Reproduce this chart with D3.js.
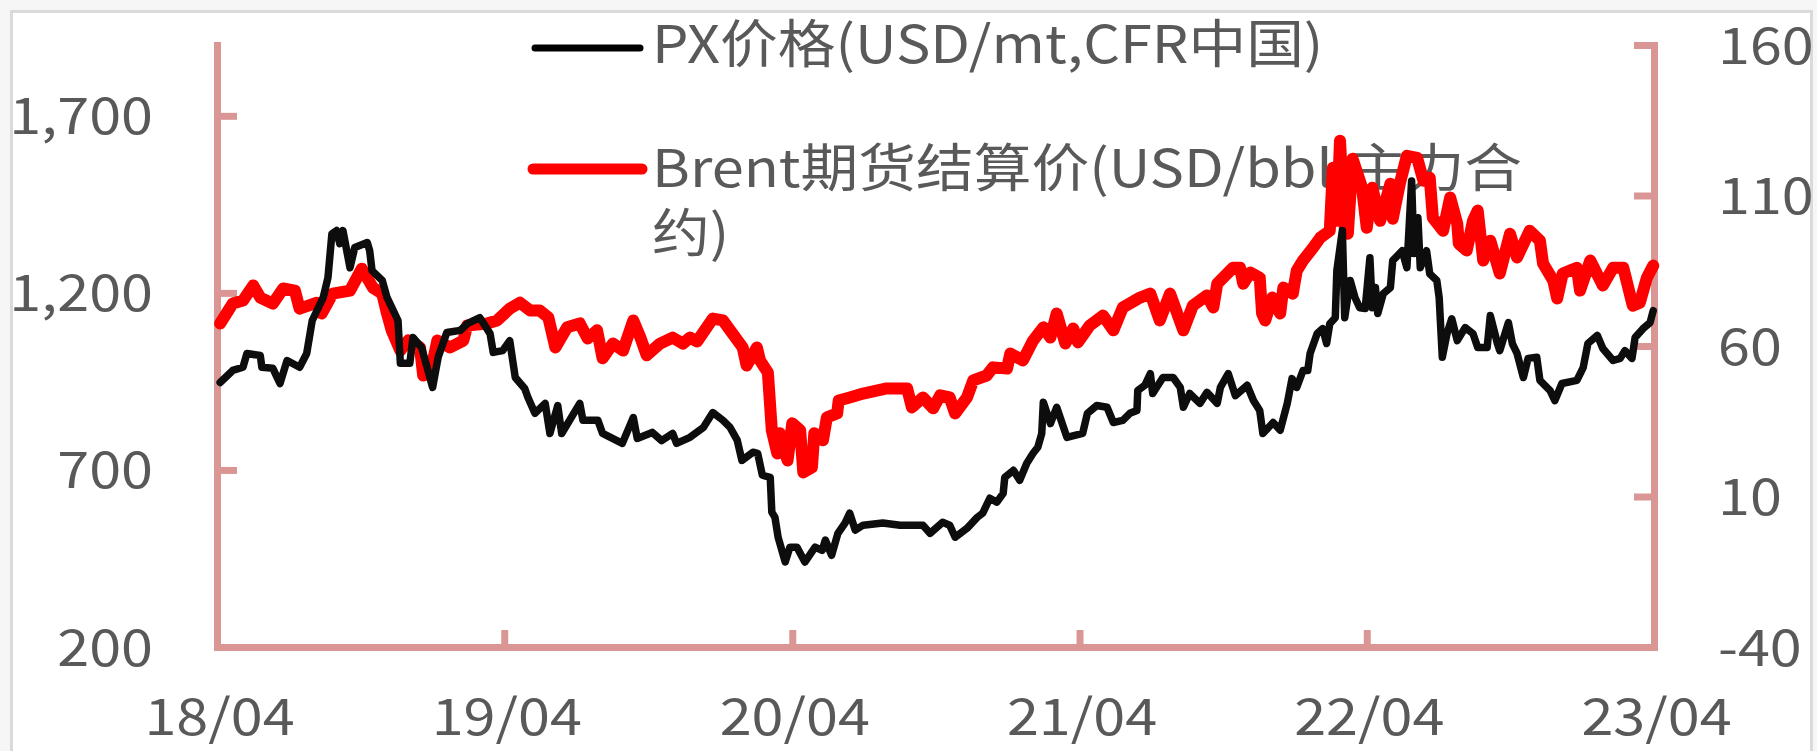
<!DOCTYPE html>
<html>
<head>
<meta charset="utf-8">
<script src="https://cdn.jsdelivr.net/npm/d3@7"></script>
<style>
  html, body { margin: 0; padding: 0; background: #f6f6f6; }
  svg { display: block; }
  text { font-family: "Noto Sans CJK SC", sans-serif; fill: #595959; }
</style>
</head>
<body>
<svg id="chart" width="1817" height="751"></svg>
<script>
const width = 1817;
const height = 751;

// PX价格 (USD/mt, CFR中国), left axis
const pxData = [
  ["2018-04-05",947],["2018-04-21",981],["2018-05-04",990],["2018-05-09",1029],["2018-05-26",1023],["2018-05-28",990],
  ["2018-06-11",987],["2018-06-20",944],["2018-06-29",1009],["2018-07-15",990],["2018-07-24",1029],["2018-07-31",1122],
  ["2018-08-14",1187],["2018-08-20",1243],["2018-08-25",1367],["2018-08-31",1376],["2018-09-04",1339],["2018-09-08",1376],
  ["2018-09-17",1271],["2018-09-23",1328],["2018-10-09",1342],["2018-10-12",1319],["2018-10-15",1263],["2018-10-28",1235],
  ["2018-11-03",1187],["2018-11-17",1122],["2018-11-20",1001],["2018-12-02",1001],["2018-12-06",1074],["2018-12-17",1046],
  ["2018-12-31",933],["2019-01-07",1018],["2019-01-18",1088],["2019-02-04",1094],["2019-02-13",1113],["2019-03-01",1130],
  ["2019-03-14",1085],["2019-03-18",1032],["2019-03-30",1037],["2019-04-08",1065],["2019-04-15",961],["2019-04-27",930],
  ["2019-05-01",905],["2019-05-10",860],["2019-05-23",888],["2019-05-29",803],["2019-06-08",882],["2019-06-13",803],
  ["2019-07-06",888],["2019-07-10",840],["2019-07-29",840],["2019-08-04",803],["2019-08-29",775],["2019-09-12",848],
  ["2019-09-17",789],["2019-10-06",806],["2019-10-18",783],["2019-11-01",803],["2019-11-06",775],["2019-11-23",792],
  ["2019-12-10",820],["2019-12-22",862],["2020-01-04",840],["2020-01-13",820],["2020-01-22",784],["2020-01-28",727],
  ["2020-02-11",750],["2020-02-17",747],["2020-02-23",685],["2020-03-04",679],["2020-03-06",581],["2020-03-10",566],
  ["2020-03-14",510],["2020-03-23",440],["2020-03-29",482],["2020-04-07",482],["2020-04-17",440],["2020-04-30",482],
  ["2020-05-09",473],["2020-05-13",502],["2020-05-21",459],["2020-05-29",521],["2020-06-07",550],["2020-06-13",578],
  ["2020-06-20",530],["2020-06-30",544],["2020-07-25",550],["2020-08-16",544],["2020-09-14",544],["2020-09-23",521],
  ["2020-10-09",552],["2020-10-18",544],["2020-10-25",510],["2020-11-09",535],["2020-11-22",566],["2020-11-29",578],
  ["2020-12-08",620],["2020-12-17",609],["2020-12-25",634],["2020-12-27",679],["2021-01-07",699],["2021-01-15",671],
  ["2021-01-24",719],["2021-02-01",747],["2021-02-07",764],["2021-02-12",803],["2021-02-14",891],["2021-02-23",831],
  ["2021-03-03",877],["2021-03-16",792],["2021-04-05",803],["2021-04-11",860],["2021-04-23",882],["2021-05-06",877],
  ["2021-05-14",834],["2021-05-26",840],["2021-06-04",860],["2021-06-13",868],["2021-06-14",924],["2021-06-23",939],
  ["2021-06-30",972],["2021-07-03",916],["2021-07-16",961],["2021-07-29",961],["2021-08-07",933],["2021-08-11",877],
  ["2021-08-19",916],["2021-09-01",888],["2021-09-10",919],["2021-09-23",888],["2021-09-27",933],["2021-10-07",972],
  ["2021-10-16",910],["2021-10-31",939],["2021-11-08",896],["2021-11-16",868],["2021-11-20",803],["2021-12-03",834],
  ["2021-12-12",812],["2021-12-21",888],["2021-12-27",958],["2022-01-02",933],["2022-01-10",981],["2022-01-16",981],
  ["2022-01-19",1029],["2022-01-28",1085],["2022-02-04",1099],["2022-02-09",1057],["2022-02-13",1113],["2022-02-20",1130],
  ["2022-02-22",1263],["2022-03-01",1376],["2022-03-04",1130],["2022-03-11",1235],["2022-03-17",1187],["2022-03-23",1158],
  ["2022-03-30",1156],["2022-04-05",1299],["2022-04-08",1158],["2022-04-12",1215],["2022-04-15",1142],["2022-04-22",1198],
  ["2022-05-01",1215],["2022-05-04",1291],["2022-05-16",1319],["2022-05-22",1271],["2022-05-28",1516],["2022-05-31",1311],
  ["2022-06-05",1412],["2022-06-08",1271],["2022-06-16",1319],["2022-06-20",1254],["2022-06-29",1235],["2022-07-02",1187],
  ["2022-07-06",1018],["2022-07-12",1085],["2022-07-18",1127],["2022-07-25",1065],["2022-08-04",1102],["2022-08-14",1085],
  ["2022-08-20",1046],["2022-09-01",1046],["2022-09-05",1136],["2022-09-14",1057],["2022-09-17",1037],["2022-09-28",1116],
  ["2022-10-03",1057],["2022-10-09",1029],["2022-10-17",961],["2022-10-23",1015],["2022-11-03",1018],["2022-11-07",953],
  ["2022-11-20",924],["2022-11-26",896],["2022-12-05",944],["2022-12-24",953],["2023-01-01",989],["2023-01-07",1057],
  ["2023-01-19",1080],["2023-01-26",1043],["2023-02-08",1009],["2023-02-17",1015],["2023-02-23",1037],["2023-03-04",1015],
  ["2023-03-08",1074],["2023-03-18",1099],["2023-03-27",1116],["2023-03-31",1150]
];

// Brent期货结算价 (USD/bbl, 主力合约), right axis
const brentData = [
  ["2018-04-05",67.5],["2018-04-21",74.1],["2018-05-04",75.1],["2018-05-17",80.1],["2018-05-26",76.1],["2018-06-11",74.1],
  ["2018-06-24",79.1],["2018-07-09",78.4],["2018-07-15",72.4],["2018-08-06",74.4],["2018-08-12",70.8],["2018-08-26",77.4],
  ["2018-09-17",78.4],["2018-10-02",85.7],["2018-10-16",79.4],["2018-10-28",77.4],["2018-11-03",70.8],["2018-11-09",65.2],
  ["2018-11-20",58.5],["2018-11-30",61.8],["2018-12-15",59.5],["2018-12-19",50.2],["2018-12-28",50.9],["2019-01-06",61.8],
  ["2019-01-22",59.5],["2019-02-08",61.8],["2019-02-13",66.8],["2019-03-10",67.5],["2019-03-23",68.5],["2019-04-08",72.4],
  ["2019-04-21",74.4],["2019-05-04",71.8],["2019-05-16",71.8],["2019-05-27",69.5],["2019-06-05",59.5],["2019-06-20",66.2],
  ["2019-07-06",67.5],["2019-07-16",62.5],["2019-07-28",65.2],["2019-08-04",55.9],["2019-08-17",60.8],["2019-08-30",58.5],
  ["2019-09-12",68.5],["2019-09-21",62.8],["2019-09-29",56.9],["2019-10-16",60.8],["2019-11-01",62.8],["2019-11-14",60.8],
  ["2019-11-23",62.8],["2019-12-02",61.5],["2019-12-22",69.1],["2020-01-04",68.5],["2020-01-13",65.2],["2020-01-29",59.5],
  ["2020-02-03",53.5],["2020-02-16",59.5],["2020-02-20",55.2],["2020-03-01",51.2],["2020-03-06",32.0],["2020-03-13",24.3],
  ["2020-03-16",31.0],["2020-03-26",22.0],["2020-04-01",34.3],["2020-04-11",32.0],["2020-04-15",18.0],["2020-04-26",19.7],
  ["2020-04-29",31.0],["2020-05-10",28.7],["2020-05-15",36.3],["2020-05-28",37.6],["2020-05-30",41.9],["2020-06-13",42.9],
  ["2020-06-30",44.2],["2020-07-30",45.9],["2020-08-25",45.9],["2020-08-31",39.6],["2020-09-14",42.9],["2020-09-27",39.3],
  ["2020-10-06",43.6],["2020-10-18",42.9],["2020-10-25",37.6],["2020-11-09",42.9],["2020-11-17",48.6],["2020-12-04",50.2],
  ["2020-12-12",52.9],["2020-12-30",52.5],["2021-01-03",57.5],["2021-01-19",55.2],["2021-02-01",61.8],["2021-02-14",66.2],
  ["2021-02-23",62.8],["2021-03-03",70.8],["2021-03-14",60.8],["2021-03-24",65.8],["2021-03-30",61.2],["2021-04-14",66.8],
  ["2021-05-01",70.1],["2021-05-14",65.2],["2021-05-26",72.8],["2021-06-17",76.1],["2021-06-30",77.4],["2021-07-12",68.5],
  ["2021-07-25",77.4],["2021-08-11",65.2],["2021-08-23",73.4],["2021-09-10",76.8],["2021-09-18",72.8],["2021-09-23",80.7],
  ["2021-10-13",86.0],["2021-10-22",86.0],["2021-10-26",80.7],["2021-11-04",84.4],["2021-11-16",82.7],["2021-11-19",70.8],
  ["2021-11-23",68.5],["2021-12-02",76.1],["2021-12-12",70.8],["2021-12-16",79.4],["2021-12-28",77.4],["2022-01-02",85.0],
  ["2022-01-10",88.4],["2022-01-23",92.7],["2022-02-01",96.0],["2022-02-13",98.3],["2022-02-17",119.2],["2022-02-22",101.6],
  ["2022-02-26",128.2],["2022-03-04",99.3],["2022-03-08",97.3],["2022-03-14",122.2],["2022-03-26",112.6],["2022-04-01",99.3],
  ["2022-04-08",112.6],["2022-04-18",101.6],["2022-05-01",113.9],["2022-05-04",102.3],["2022-05-13",113.9],["2022-05-22",123.2],
  ["2022-06-04",122.5],["2022-06-12",114.9],["2022-06-20",115.9],["2022-06-24",102.6],["2022-07-07",98.3],["2022-07-16",109.3],
  ["2022-07-25",100.6],["2022-07-27",94.0],["2022-08-06",91.7],["2022-08-14",101.6],["2022-08-20",105.0],["2022-08-27",88.4],
  ["2022-09-05",95.0],["2022-09-17",84.1],["2022-09-30",97.3],["2022-10-09",89.4],["2022-10-25",98.3],["2022-11-07",95.0],
  ["2022-11-11",87.4],["2022-11-24",81.7],["2022-11-29",75.8],["2022-12-06",84.1],["2022-12-24",86.0],["2022-12-28",78.4],
  ["2023-01-10",88.4],["2023-01-26",80.1],["2023-02-08",86.0],["2023-02-21",86.0],["2023-03-05",73.4],["2023-03-14",74.4],
  ["2023-03-23",82.7],["2023-03-31",86.7]
];

const xTicks = ["2018-04-01","2019-04-01","2020-04-01","2021-04-01","2022-04-01","2023-04-01"];
const leftTicks = [200, 700, 1200, 1700];
const rightTicks = [-40, 10, 60, 110, 160];
const legendLines = [
  { label: ["PX价格(USD/mt,CFR中国)"], color: "#000000", width: 7 },
  { label: ["Brent期货结算价(USD/bbl,主力合", "约)"], color: "#ff0000", width: 11 }
];

const parse = d3.timeParse("%Y-%m-%d");
const px = pxData.map(d => ({ date: parse(d[0]), value: d[1] }));
const brent = brentData.map(d => ({ date: parse(d[0]), value: d[1] }));

const axisColor = "#da9694";
const sx = 1.15;   // tick text in the picture is stretched sideways
const sxLeg = 1.11;

const plot = { left: 217, right: 1654, top: 45, bottom: 647 };

const x = d3.scaleTime()
  .domain([parse(xTicks[0]), parse(xTicks[xTicks.length - 1])])
  .range([plot.left, plot.right]);
const yLeft = d3.scaleLinear().domain([200, 1900]).range([plot.bottom, plot.top]);
const yRight = d3.scaleLinear().domain([-40, 160]).range([plot.bottom, plot.top]);

const svg = d3.select("#chart");

// page frame
svg.append("rect")
  .attr("x", 11.5).attr("y", 11.5)
  .attr("width", 1800).attr("height", 780)
  .attr("fill", "#fff")
  .attr("stroke", "#dadada")
  .attr("stroke-width", 3);

function styleAxis(g) {
  g.select(".domain")
    .attr("stroke", axisColor)
    .attr("stroke-width", 7)
    .attr("stroke-linecap", "square");
  g.selectAll(".tick line")
    .attr("stroke", axisColor)
    .attr("stroke-width", 7);
  g.selectAll(".tick text")
    .attr("fill", "#595959")
    .style("font-size", "50px")
    .attr("font-family", null);
}

// left axis
const gLeft = svg.append("g")
  .attr("transform", `translate(${plot.left},0)`)
  .call(d3.axisLeft(yLeft).tickValues(leftTicks).tickSizeInner(-20).tickSizeOuter(0)
    .tickFormat(d3.format(",")))
  .call(styleAxis);
gLeft.selectAll(".tick text")
  .attr("x", -64 / sx).attr("y", 18).attr("dy", null)
  .attr("transform", `scale(${sx},1)`);

// right axis (plain hyphen for the negative label)
const gRight = svg.append("g")
  .attr("transform", `translate(${plot.right},0)`)
  .call(d3.axisRight(yRight).tickValues(rightTicks).tickSizeInner(-20).tickSizeOuter(0)
    .tickFormat(d => String(d)))
  .call(styleAxis);
gRight.selectAll(".tick text")
  .attr("x", 64 / sx).attr("y", 18).attr("dy", null)
  .attr("transform", `scale(${sx},1)`);

// bottom axis
const gBottom = svg.append("g")
  .attr("transform", `translate(0,${plot.bottom})`)
  .call(d3.axisBottom(x).tickValues(xTicks.map(parse)).tickSizeInner(-17).tickSizeOuter(0)
    .tickFormat(d3.timeFormat("%y/%m")))
  .call(styleAxis);
gBottom.selectAll(".tick text")
  .attr("x", 2 / sx).attr("y", 88).attr("dy", null)
  .attr("transform", `scale(${sx},1)`);

// legend (drawn under the lines, as in the picture)
const legend = svg.append("g");
const legendRows = [
  { swatch: [535, 640, 48], baseline: 63 },
  { swatch: [533, 642, 169], baseline: 187 }
];
legendLines.forEach((item, i) => {
  const row = legendRows[i];
  legend.append("line")
    .attr("x1", row.swatch[0]).attr("x2", row.swatch[1])
    .attr("y1", row.swatch[2]).attr("y2", row.swatch[2])
    .attr("stroke", item.color)
    .attr("stroke-width", item.width)
    .attr("stroke-linecap", "round");
  const t = legend.append("text")
    .attr("transform", `translate(652,${row.baseline}) scale(${sxLeg},1)`)
    .style("font-size", "52px");
  item.label.forEach((s, j) => {
    t.append("tspan")
      .attr("x", 0)
      .attr("dy", j === 0 ? 0 : 65)
      .text(s);
  });
});

// series
const lineRight = d3.line().x(d => x(d.date)).y(d => yRight(d.value));
const lineLeft = d3.line().x(d => x(d.date)).y(d => yLeft(d.value));

svg.append("path")
  .datum(brent)
  .attr("fill", "none")
  .attr("stroke", "#ff0000")
  .attr("stroke-width", 12)
  .attr("stroke-linejoin", "round")
  .attr("stroke-linecap", "round")
  .attr("d", lineRight);

svg.append("path")
  .datum(px)
  .attr("fill", "none")
  .attr("stroke", "#0d0d0d")
  .attr("stroke-width", 7.5)
  .attr("stroke-linejoin", "round")
  .attr("stroke-linecap", "round")
  .attr("d", lineLeft);
</script>
</body>
</html>
